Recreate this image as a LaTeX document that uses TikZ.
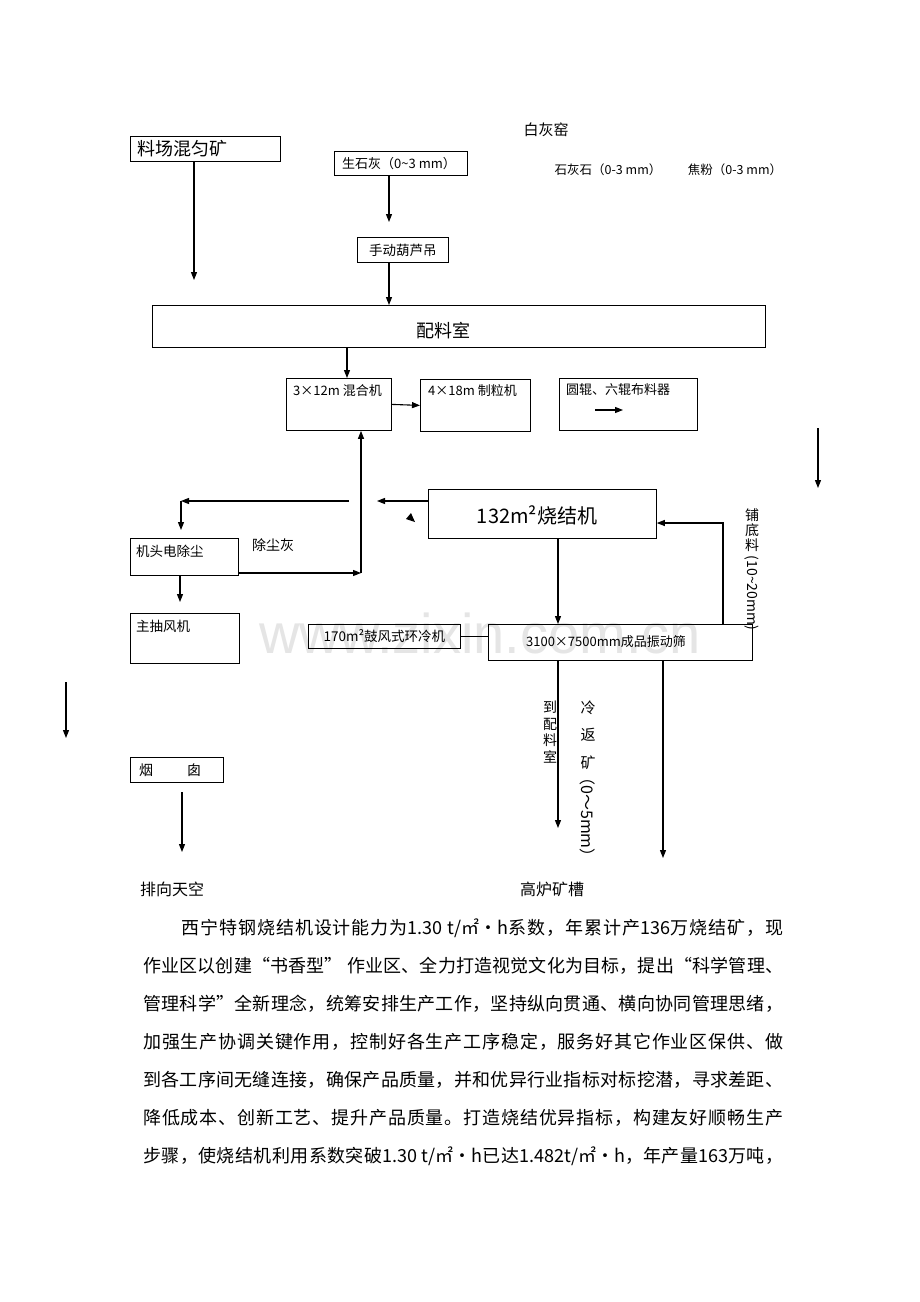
\documentclass[tikz,border=0pt]{standalone}
\usepackage{fontspec}
\setmainfont{Noto Sans CJK SC}
\newfontfamily\markfont{Liberation Sans}
\usetikzlibrary{arrows.meta}
\newcommand\sz[1]{\fontsize{#1}{#1}\selectfont}
% glue between CJK characters, so that each text line can be justified
\XeTeXinterchartokenstate=1
\newcount\cjkcode
\def\cjkrange#1#2{\cjkcode=#1 \loop\XeTeXcharclass\cjkcode=1 \advance\cjkcode by 1 \ifnum\cjkcode<#2 \repeat}
\cjkrange{"4E00}{"A000}
\cjkrange{"3000}{"3040}
\cjkrange{"FF00}{"FFF0}
\XeTeXcharclass"33A1=1
\XeTeXcharclass"201C=1
\XeTeXcharclass"201D=1
\XeTeXinterchartoks 1 1 = {\hskip 0pt plus 3pt minus 0.6pt\relax}
\newcommand\fullline[1]{\tolerance=10000\parfillskip=0pt\relax\noindent #1\par}

\begin{document}
\begin{tikzpicture}[x=1pt,y=-1pt,
  box/.style={draw, line width=0.8pt, anchor=north west, inner sep=0pt},
  tx/.style={inner sep=0pt, font=\sz{13}},
  flow/.style={line width=1.1pt, -{Triangle[length=8pt,width=6pt]}},
  link/.style={line width=1.1pt},
  textline/.style={anchor=west, inner sep=0pt, text width=640pt, align=justify, font=\sz{18}}]
  \fill[white] (0,0) rectangle (920,1302);
  \useasboundingbox (0,0) rectangle (920,1302);

  % Watermark
  \node[text=black!10, font=\markfont\sz{56}] (mark) at (480,633) {www.zixin.com.cn};

  % Raw materials
  \node[box, minimum width=150pt, minimum height=25pt] (stock) at (130,136) {};
  \node[tx, anchor=west, font=\sz{18}] (stocktx) at ([xshift=7pt]stock.west) {料场混匀矿};
  \node[tx, font=\sz{15}] (kiln) at (546,130) {白灰窑};
  \node[box, minimum width=133pt, minimum height=24pt] (lime) at (334,151) {};
  \node[tx, anchor=west] (limetx) at ([xshift=8pt]lime.west) {生石灰（0\textasciitilde3 mm）};
  \node[tx, font=\sz{12.5}] (stone) at (608,170) {石灰石（0-3 mm）};
  \node[tx, font=\sz{12.5}] (coke) at (735,170) {焦粉（0-3 mm）};
  \node[box, minimum width=91pt, minimum height=25pt] (hoist) at (357,237) {};
  \node[tx, font=\sz{13.5}] (hoisttx) at (hoist.center) {手动葫芦吊};

  % Batching and mixing
  \node[box, minimum width=613pt, minimum height=42pt] (batch) at (152,305) {};
  \node[tx, font=\sz{18}] (batchtx) at (443,331) {配料室};
  \node[box, minimum width=105pt, minimum height=52pt] (mixer) at (286,378) {};
  \node[tx, anchor=west] (mixertx) at (293,391) {3×12m 混合机};
  \node[box, minimum width=110pt, minimum height=52pt] (gran) at (420,379) {};
  \node[tx, anchor=west] (grantx) at (428,391) {4×18m 制粒机};
  \node[box, minimum width=138pt, minimum height=52pt] (feeder) at (559,378) {};
  \node[tx, anchor=west] (feedertx) at (566,390) {圆辊、六辊布料器};

  % Sintering
  \node[box, minimum width=228pt, minimum height=49pt] (sinter) at (428,489) {};
  \node[tx, font=\sz{20}] (sintertx) at (537,515) {132m²烧结机};
  \node[box, minimum width=108pt, minimum height=37pt] (esp) at (130,538) {};
  \node[tx, anchor=west, font=\sz{13.5}] (esptx) at (136,551) {机头电除尘};
  \node[tx, font=\sz{14}] (dust) at (273,545) {除尘灰};
  \node[box, minimum width=109pt, minimum height=50pt] (fan) at (130,613) {};
  \node[tx, anchor=west, font=\sz{13.5}] (fantx) at (136,626) {主抽风机};
  \node[box, minimum width=152pt, minimum height=24pt] (cooler) at (308,624) {};
  \node[tx, font=\sz{13.5}] (coolertx) at (cooler.center) {170m²鼓风式环冷机};
  \node[box, minimum width=264pt, minimum height=36pt] (screen) at (488,624) {};
  \node[tx, font=\sz{13}] (screentx) at (606,642) {3100×7500mm成品振动筛};

  % Exhaust and outlets
  \node[box, minimum width=93pt, minimum height=25pt] (chimney) at (130,757) {};
  \node[tx, anchor=west, font=\sz{14}] (chimneytx) at (139,770) {烟\hspace{34pt}囱};
  \node[tx, font=\sz{16}] (sky) at (172,889) {排向天空};
  \node[tx, font=\sz{16}] (bf) at (552,889) {高炉矿槽};

  % Vertical labels
  \node[tx, align=center, font=\fontsize{14}{16.5}\selectfont] (backtx) at (550,732) {到\\配\\料\\室};
  \node[tx, align=center, font=\fontsize{15}{27.5}\selectfont] (returntx) at (588,735) {冷\\返\\矿};
  \node[tx, rotate=-90, font=\sz{16}] (returnsz) at (588,817) {（0～5mm）};
  \node[tx, align=center, font=\fontsize{14}{15}\selectfont] (hearthtx) at (752,530) {铺\\底\\料};
  \node[tx, rotate=-90, font=\sz{14}] (hearthsz) at (752,593) {(10\textasciitilde20mm)};

  % Feed lines
  \coordinate (stockend) at (194,280);
  \draw[flow] (stock.south -| stockend) -- (stockend);
  \coordinate (limeend) at (389,222);
  \draw[flow] (lime.south -| limeend) -- (limeend);
  \draw[flow] (hoist.south -| limeend) -- (batch.north -| limeend);
  \draw[flow] (batch.south -| 347,0) -- (mixer.north -| 347,0);
  \draw[flow] (mixer.east) -- (gran.west);
  \coordinate (feedA) at (595,410);
  \coordinate (feedB) at (623,410);
  \draw[flow] (feedA) -- (feedB);

  % Gas and dust
  \coordinate (retend) at (377,501);
  \draw[flow] (sinter.west |- retend) -- (retend);
  \coordinate (gasA) at (349,501);
  \coordinate (gasB) at (181,501);
  \draw[flow] (gasA) -- (gasB);
  \draw[flow, shorten >=8pt] (gasB) -- (esp.north -| gasB);
  \coordinate (dustB) at (361,573);
  \draw[flow] (esp.east |- dustB) -- (dustB);
  \draw[flow] (dustB) -- (mixer.south -| dustB);
  \draw[flow, shorten >=11pt] (esp.south -| 180,0) -- (fan.north -| 180,0);
  \fill (411,513) -- (406,519) -- (415,522) -- cycle;

  % Product screening
  \draw[flow] (sinter.south -| 558,0) -- (screen.north -| 558,0);
  \draw[link] (cooler.east) -- (screen.west |- cooler.east);
  \draw[flow] (screen.north -| 723,0) |- (sinter.east |- 0,523);
  \coordinate (backend) at (558,828);
  \draw[flow] (screen.south -| backend) -- (backend);
  \coordinate (bfend) at (663,858);
  \draw[flow] (screen.south -| bfend) -- (bfend);
  \coordinate (skyA) at (182,792);
  \coordinate (skyB) at (182,852);
  \draw[flow] (skyA) -- (skyB);

  % Loose arrows
  \coordinate (looseA) at (818,428);
  \coordinate (looseB) at (818,488);
  \draw[flow] (looseA) -- (looseB);
  \coordinate (looseC) at (66,682);
  \coordinate (looseD) at (66,738);
  \draw[flow] (looseC) -- (looseD);

  % Text block
  \node[textline, text width=602pt] (p1) at (181,928) {\fullline{西宁特钢烧结机设计能力为1.30 t/㎡·h系数，年累计产136万烧结矿，现}};
  \node[textline] (p2) at (143,966) {\fullline{作业区以创建“书香型” 作业区、全力打造视觉文化为目标，提出“科学管理、}};
  \node[textline] (p3) at (143,1004) {\fullline{管理科学”全新理念，统筹安排生产工作，坚持纵向贯通、横向协同管理思绪，}};
  \node[textline] (p4) at (143,1042) {\fullline{加强生产协调关键作用，控制好各生产工序稳定，服务好其它作业区保供、做}};
  \node[textline] (p5) at (143,1080) {\fullline{到各工序间无缝连接，确保产品质量，并和优异行业指标对标挖潜，寻求差距、}};
  \node[textline] (p6) at (143,1118) {\fullline{降低成本、创新工艺、提升产品质量。打造烧结优异指标，构建友好顺畅生产}};
  \node[textline] (p7) at (143,1156) {\fullline{步骤，使烧结机利用系数突破1.30 t/㎡·h已达1.482t/㎡·h，年产量163万吨，}};
\end{tikzpicture}
\end{document}
